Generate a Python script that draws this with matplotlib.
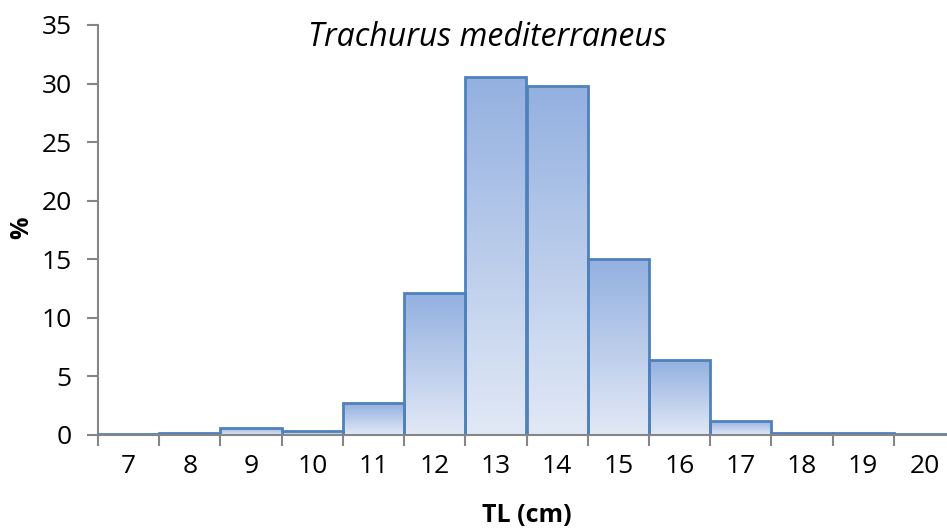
import numpy as np
import matplotlib.pyplot as plt
from matplotlib.colors import LinearSegmentedColormap

# length classes (TL, cm) and percentage frequency
tl_classes = [7, 8, 9, 10, 11, 12, 13, 14, 15, 16, 17, 18, 19, 20]
percent = [0.1, 0.2, 0.6, 0.3, 2.7, 12.1, 30.6, 29.8, 15.0, 6.4, 1.2, 0.2, 0.2, 0.1]
y_ticks = [0, 5, 10, 15, 20, 25, 30, 35]

plt.rcParams['font.family'] = ['Open Sans', 'DejaVu Sans']

fig = plt.figure(figsize=(9.47, 5.29), dpi=100)
ax = fig.add_axes([98 / 947, 94 / 529, 857 / 947, 410 / 529])

edge = '#4f81bd'
cmap = LinearSegmentedColormap.from_list('grad', ['#e2e9f6', '#93b0e0'])
grad = np.linspace(0, 1, 256).reshape(-1, 1)

bars = ax.bar(tl_classes, percent, width=1.0, color='none', edgecolor=edge,
              linewidth=2, zorder=3)
for b in bars:
    x0, y0 = b.get_x(), b.get_y()
    w, h = b.get_width(), b.get_height()
    im = ax.imshow(grad, cmap=cmap, aspect='auto', origin='lower',
                   extent=[x0, x0 + w, y0, y0 + h], zorder=2)
    im.set_clip_path(b)

ax.set_xlim(6.5, 20.5)
ax.set_ylim(0, 35)
ax.set_yticks(y_ticks)

# category boundaries as tick marks, labels at centres
ax.set_xticks(np.arange(6.5, 21, 1.0))
ax.set_xticklabels([])
ax.set_xticks(tl_classes, minor=True)
ax.set_xticklabels([str(c) for c in tl_classes], minor=True)
ax.tick_params(axis='x', which='minor', length=0, pad=14, labelsize=19)
ax.tick_params(axis='x', which='major', length=8, width=1.5, color='#868686')
ax.tick_params(axis='y', length=8, width=1.5, color='#868686', labelsize=19, pad=11)

for s in ['top', 'right']:
    ax.spines[s].set_visible(False)
for s in ['left', 'bottom']:
    ax.spines[s].set_color('#868686')
    ax.spines[s].set_linewidth(1.5)
ax.spines['bottom'].set_zorder(4)

ax.set_xlabel('TL (cm)', fontsize=18, fontweight='bold', va='center')
ax.set_ylabel('%', fontsize=18, fontweight='bold', va='center')
ax.xaxis.set_label_coords((527 - 98) / 857, -(515 - 435) / 410)
ax.yaxis.set_label_coords(-(98 - 22) / 857, (435 - 228) / 410)
ax.text((487 - 98) / 857, (435 - 38) / 410, 'Trachurus mediterraneus',
        transform=ax.transAxes, ha='center', va='center', fontsize=23,
        fontstyle='italic')

fig.savefig('out.png', dpi=100)
